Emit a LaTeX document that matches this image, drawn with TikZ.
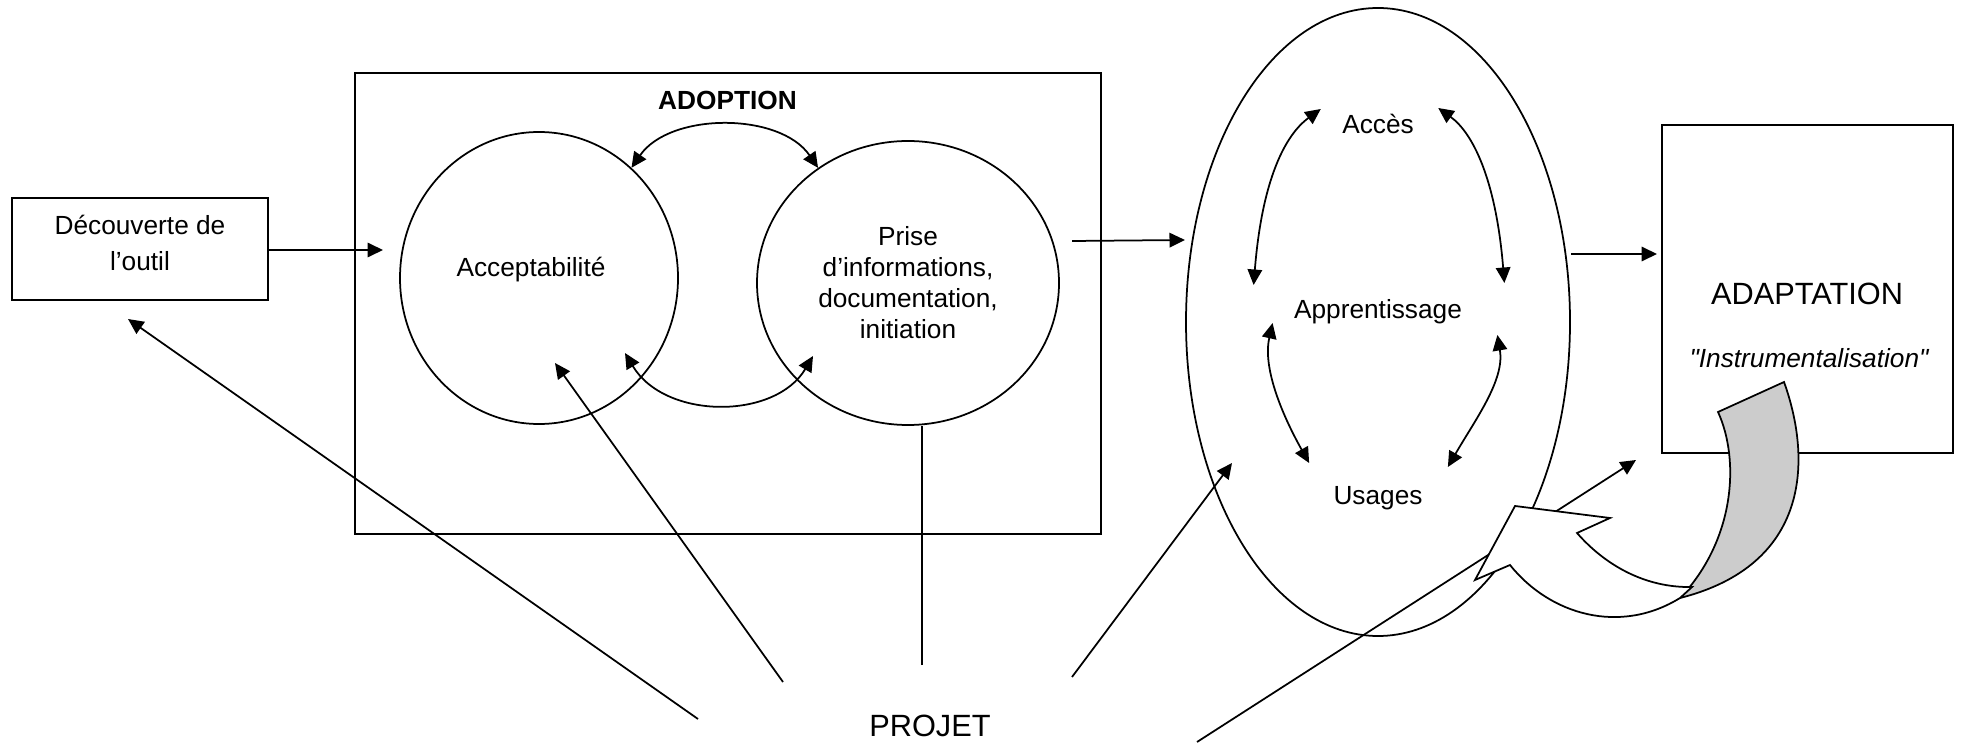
\documentclass[tikz,border=0pt]{standalone}
\usepackage{fontspec}
\setmainfont{Liberation Sans}
\usetikzlibrary{arrows.meta,shapes.geometric,calc}
\newcommand\strq{\XeTeXglyph\XeTeXcharglyph"22\relax}

\begin{document}
\begin{tikzpicture}[x=0.4pt,y=-0.4pt,line width=0.7pt,
    arr/.style={-{Triangle[length=6.2pt,width=5.8pt]}},
    darr/.style={{Triangle[length=6.2pt,width=5.8pt]}-{Triangle[length=6.2pt,width=5.8pt]}},
    txt/.style={font=\fontsize{10.5}{12.4}\selectfont,align=center,inner sep=0pt},
    big/.style={font=\fontsize{12.3}{14}\selectfont,inner sep=0pt},
    box/.style={draw,rectangle,line width=0.8pt,inner sep=0pt},
    oval/.style={draw,ellipse,inner sep=0pt}]

    \useasboundingbox (0,0) rectangle (1966,745);

    % boxes and ovals
    \node[box,minimum width=102.4pt,minimum height=40.8pt,
        label={[txt,font=\fontsize{10.5}{14.4}\selectfont,name=decouvtxt,yshift=2.6pt]center:{D\'ecouverte de\\l’outil}}] (decouv) at (140,249) {};
    \node[box,minimum width=298pt,minimum height=184.5pt] (adoption) at (728,303.4) {};
    \node[txt,font=\bfseries\fontsize{10.5}{12.4}\selectfont] (adtitle) at (727.5,100) {ADOPTION};
    \node[oval,minimum width=111.2pt,minimum height=116.8pt,
        label={[txt,name=accepttxt,xshift=-3.2pt,yshift=3.3pt]center:Acceptabilit\'e}] (accept) at (539,278) {};
    \node[oval,minimum width=120.8pt,minimum height=113.6pt,txt] (prise) at (908,283)
        {Prise\\d’informations,\\documentation,\\initiation};
    \node[oval,minimum width=153.6pt,minimum height=251.2pt] (cycle) at (1378,322) {};
    \node[txt] (acces) at (1378,124) {Acc\`es};
    \node[txt] (apprent) at (1378,312) {Apprentissage};
    \node[txt] (usages) at (1378,498) {Usages};
    \node[box,minimum width=116.4pt,minimum height=131.2pt] (adaptation) at (1807.5,289) {};
    \node[big] (adaptxt) at (1807,293.5) {ADAPTATION};
    \node[txt,font=\itshape\fontsize{10.5}{12.4}\selectfont] (instru) at (1809,358) {\strq Instrumentalisation\strq};
    \node[big] (projet) at (930,726) {PROJET};

    % free ends
    \coordinate (accin) at (383,250);
    \coordinate (accb) at (625,353);
    \coordinate (priseb) at (813,356);
    \coordinate (adout) at (1072,241);
    \coordinate (cyin) at (1185,240);
    \coordinate (cyout) at (1571,254);
    \coordinate (adin) at (1657,254);
    \coordinate (p1) at (698,719);
    \coordinate (p2) at (783,682);
    \coordinate (p3) at (922,665);
    \coordinate (p4) at (1072,677);
    \coordinate (p5) at (1197,742);

    % main flow
    \draw[arr] (decouv.east |- accin) -- (accin);
    \draw[arr] (adout) -- (cyin);
    \draw[arr] (cyout) -- (adin);

    % adoption loop
    \draw[darr] (accept.50) .. controls (670,112) and (780,112) .. (prise.128);
    \draw[darr] (accb) .. controls (665,420) and (775,420) .. (priseb);

    % cycle acces / apprentissage / usages
    \draw[darr] ($(acces.west)+(-20.6,-15)$) .. controls (1285,135) and (1262,180) .. ($(apprent.west)+(-39.6,-27)$);
    \draw[darr] ($(acces.east)+(23.6,-16)$) .. controls (1473,133) and (1496,180) .. ($(apprent.east)+(41.6,-29)$);
    \draw[darr] ($(apprent.west)+(-20.6,11)$) .. controls (1262,370) and (1285,420) .. ($(usages.west)+(-23.5,-35)$);
    \draw[darr] ($(apprent.east)+(34.6,23)$) .. controls (1505,380) and (1475,420) .. ($(usages.east)+(24.5,-31)$);

    % projet
    \draw[arr] (p1) -- ($(decouv.south)+(-12,18)$);
    \draw[arr] (p2) -- ($(accept.center)+(16,85)$);
    \draw (p3) -- (p3 |- prise.south);
    \draw[arr] (p4) -- ($(cycle.center)+(-146,141)$);
    \draw[arr] (p5) -- ($(adaptation.south west)+(-25,6)$);

    % curled arrow
    \filldraw[fill=gray!40] (1680,598) .. controls (1810,565) and (1812,460) .. (1784,382)
        -- (1718,412) .. controls (1740,460) and (1735,540) .. (1680,598) -- cycle;
    \filldraw[fill=white] (1510,565) -- (1475,580) -- (1515,506) -- (1610,518) -- (1577,533)
        .. controls (1605,565) and (1645,588) .. (1692,587) -- (1680,598)
        .. controls (1620,635) and (1550,615) .. (1510,565) -- cycle;
\end{tikzpicture}
\end{document}
